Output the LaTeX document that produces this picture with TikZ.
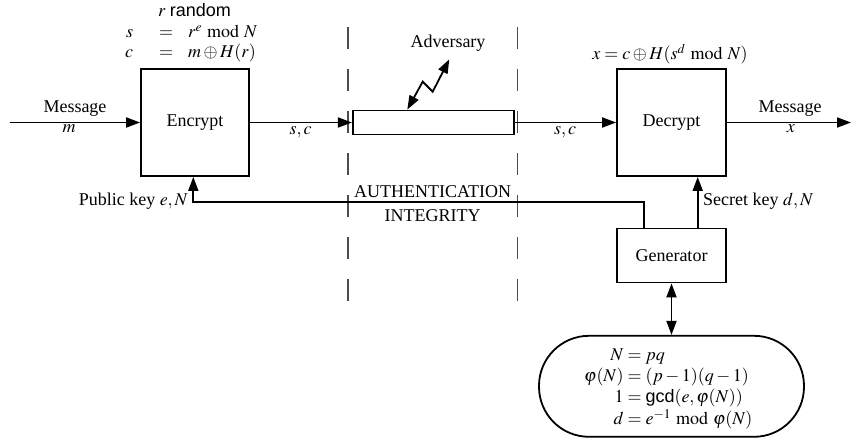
\documentclass[tikz,border=0pt]{standalone}
\usepackage{mathptmx}
\usepackage[no-math]{fontspec}
\setmainfont{Liberation Serif}
\setsansfont{Liberation Sans}
\usetikzlibrary{arrows.meta,calc}

\begin{document}
\begin{tikzpicture}[x=1pt,y=-1pt,
  font=\fontsize{18}{20}\selectfont,
  box/.style={draw,line width=1.8pt,inner sep=0pt},
  flow/.style={line width=1.8pt,-{Triangle[length=14pt,width=10pt]}},
  both/.style={line width=1.8pt,{Triangle[length=14pt,width=10pt]}-{Triangle[length=14pt,width=10pt]}},
  zone/.style={line width=1.2pt,black!70,dash pattern=on 22pt off 20pt},
  lbl/.style={inner sep=0pt,anchor=base}]

\useasboundingbox (0,0) rectangle (851,441);

% boundaries of the insecure channel
\draw[zone] (348,27) -- (348,303);
\draw[zone] (517.7,27) -- (517.7,303);

% blocks
\node[box,minimum width=108pt,minimum height=107pt] (enc) at (195,122.5) {Encrypt};
\node[box,minimum width=109pt,minimum height=107pt] (dec) at (671.5,122.5) {Decrypt};
\node[box,minimum width=161pt,minimum height=24pt] (chan) at (433.3,122.5) {};
\node[box,minimum width=109pt,minimum height=54pt] (gen) at (671.5,255.5) {Generator};
\node[box,rounded corners=50pt,minimum width=265pt,minimum height=101pt] (keys) at (671.5,386.3) {};

% key parameters
\node[lbl] (params) at (668.3,360) {\renewcommand{\arraystretch}{1.07}$\begin{array}[t]{@{}r@{}l@{}}
  N &{}= pq\\
  \varphi(N) &{}= (p-1)(q-1)\\
  1 &{}= \textsf{gcd}(e,\varphi(N))\\
  d &{}= e^{-1}\bmod\varphi(N)
\end{array}$};

% encryption rule
\node[lbl] (rnd) at (194.5,17) {$r$ \textsf{random}};
\node[lbl,anchor=base west] (encfm) at (125,38) {$\begin{array}[t]{@{}r@{\hspace{26pt}}c@{\hspace{15pt}}l@{}}
  s & = & r^e \bmod N\\
  c & = & m\oplus H(r)
\end{array}$};

% decryption rule
\node[lbl] (decfm) at (670,60) {$x = c\oplus H(s^d \bmod N)$};

% labels
\node[lbl] (msgin) at (75,113) {Message};
\node[lbl] (min) at (69,132) {$m$};
\node[lbl,anchor=base east] (pub) at (188,205) {Public key $e,N$};
\node[lbl] (sc1) at (300.7,135) {$s,c$};
\node[lbl] (sc2) at (565,135) {$s,c$};
\node[lbl] (adv) at (448,48) {Adversary};
\node[lbl] (auth) at (432.7,197) {AUTHENTICATION};
\node[lbl] (integ) at (432.7,221) {INTEGRITY};
\node[lbl] (msgout) at (790,113) {Message};
\node[lbl] (xout) at (791,132) {$x$};
\node[lbl,anchor=base west] (sec) at (703,205) {Secret key $d,N$};

% free ends and bends
\coordinate (src) at (10,122.5);
\coordinate (sink) at (851,122.5);
\coordinate (pkbend) at (193.3,202.3);
\coordinate (bolt1) at (422.7,81.7);
\coordinate (bolt2) at (432.7,91.7);
\coordinate (boltend) at (449.3,59.3);

% data flow
\draw[flow] (src) -- (enc.west);
\draw[flow] (enc.east) -- (chan.west);
\draw[flow] (chan.east) -- (dec.west);
\draw[flow] (dec.east) -- (sink);

% key distribution
\draw[flow] ([xshift=-27.5pt]gen.north) |- (pkbend) -- (pkbend |- enc.south);
\draw[flow] ([xshift=26.2pt]gen.north) -- ([xshift=26.2pt]dec.south);
\draw[both] (gen.south) -- (keys.north);

% adversary attack
\draw[both] ([xshift=-26pt]chan.north) -- (bolt1) -- (bolt2) -- (boltend);
\end{tikzpicture}
\end{document}
